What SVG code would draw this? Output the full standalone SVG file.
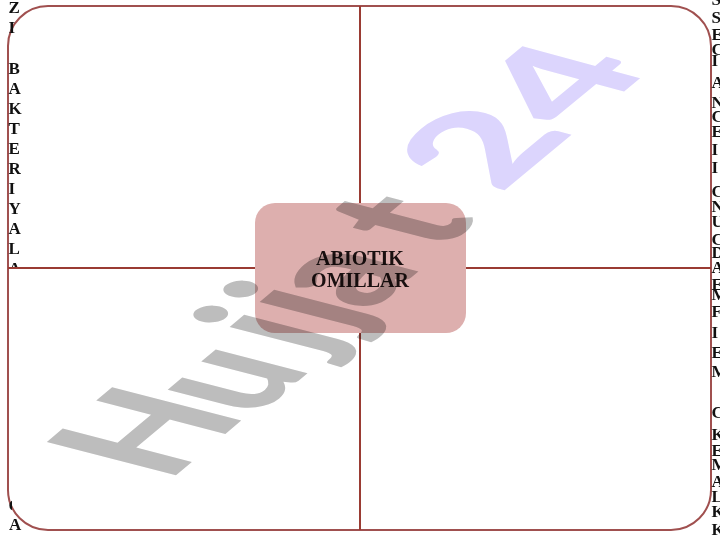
<svg xmlns="http://www.w3.org/2000/svg" width="720" height="540" viewBox="0 0 720 540">
<defs>
<style>
.edge{font-family:"Liberation Serif","Times New Roman",serif;font-weight:bold;font-size:17px;fill:#111;}
.lbl{font-family:"Liberation Serif","Times New Roman",serif;font-weight:bold;font-size:20px;fill:#1a1010;text-anchor:middle;}
.wm{font-family:Lato,"DejaVu Sans",sans-serif;font-weight:900;font-size:100px;mix-blend-mode:multiply;}
.g{fill:#bdbdbd;}
.p{fill:#dcd5fd;}
.conn{stroke:#9a3b33;stroke-width:2;fill:none;}
</style>
<clipPath id="cutA"><rect x="0" y="0" width="40" height="267"/></clipPath>
<clipPath id="cutC"><rect x="0" y="490" width="12" height="30"/></clipPath>
</defs>
<g id="frame">
<rect x="8" y="6" width="703" height="524" rx="40" ry="40" fill="#fff" stroke="#a0504f" stroke-width="2"/>
</g>
<g id="connectors">
<line class="conn" x1="360" y1="6" x2="360" y2="530"/>
<line class="conn" x1="8" y1="268" x2="711" y2="268"/>
</g>
<g id="node-abiotik">
<rect x="255" y="203" width="211" height="130" rx="20" ry="20" fill="#ddafae"/>
<text class="lbl" x="360" y="265">ABIOTIK</text>
<text class="lbl" x="360" y="287">OMILLAR</text>
</g>
<g id="edge-left" class="edge">
<text x="8.5" y="13">Z</text>
<text x="8.5" y="33">I</text>
<text x="8.5" y="74">B</text>
<text x="8.5" y="94">A</text>
<text x="8.5" y="114">K</text>
<text x="8.5" y="134">T</text>
<text x="8.5" y="154">E</text>
<text x="8.5" y="174">R</text>
<text x="8.5" y="194">I</text>
<text x="8.5" y="214">Y</text>
<text x="8.5" y="234">A</text>
<text x="8.5" y="254">L</text>
<text x="8.5" y="274" clip-path="url(#cutA)">A</text>
<text x="8.5" y="511" clip-path="url(#cutC)">C</text>
<text x="9" y="530">A</text>
</g>
<g id="edge-right" class="edge">
<text x="711.5" y="5">S</text>
<text x="711.5" y="23">S</text>
<text x="711.5" y="40">E</text>
<text x="711.5" y="55">C</text>
<text x="711.5" y="66">I</text>
<text x="711.5" y="88">A</text>
<text x="711.5" y="108">N</text>
<text x="711.5" y="122">C</text>
<text x="711.5" y="137">E</text>
<text x="711.5" y="155">I</text>
<text x="711.5" y="173">I</text>
<text x="711.5" y="197">C</text>
<text x="711.5" y="212">N</text>
<text x="711.5" y="227">U</text>
<text x="711.5" y="245">C</text>
<text x="711.5" y="258">D</text>
<text x="711.5" y="273">A</text>
<text x="711.5" y="290">E</text>
<text x="711.5" y="300">M</text>
<text x="711.5" y="317">F</text>
<text x="711.5" y="338">I</text>
<text x="711.5" y="358">E</text>
<text x="711.5" y="377">M</text>
<text x="711.5" y="418">C</text>
<text x="711.5" y="440">K</text>
<text x="711.5" y="456">E</text>
<text x="711.5" y="470">M</text>
<text x="711.5" y="487">A</text>
<text x="711.5" y="502">L</text>
<text x="711.5" y="517">K</text>
<text x="711.5" y="535">K</text>
</g>
<g id="watermark">
<text class="wm g" transform="matrix(1.05 -0.88 1.78 0.46 168 482)">H</text>
<text class="wm g" transform="matrix(1.05 -0.88 1.78 0.46 254 418)">u</text>
<text class="wm g" transform="matrix(1.05 -0.88 1.78 0.46 315 356)">j</text>
<text class="wm g" transform="matrix(1.05 -0.88 1.78 0.46 345 331)">j</text>
<text class="wm g" transform="matrix(1.05 -0.88 1.78 0.46 370 312)">a</text>
<text class="wm g" transform="matrix(1.05 -0.88 1.78 0.46 440 252)">t</text>
<text class="wm p" transform="matrix(1.33 -1.1 1.62 0.44 500 194)">24</text>
</g>
</svg>
